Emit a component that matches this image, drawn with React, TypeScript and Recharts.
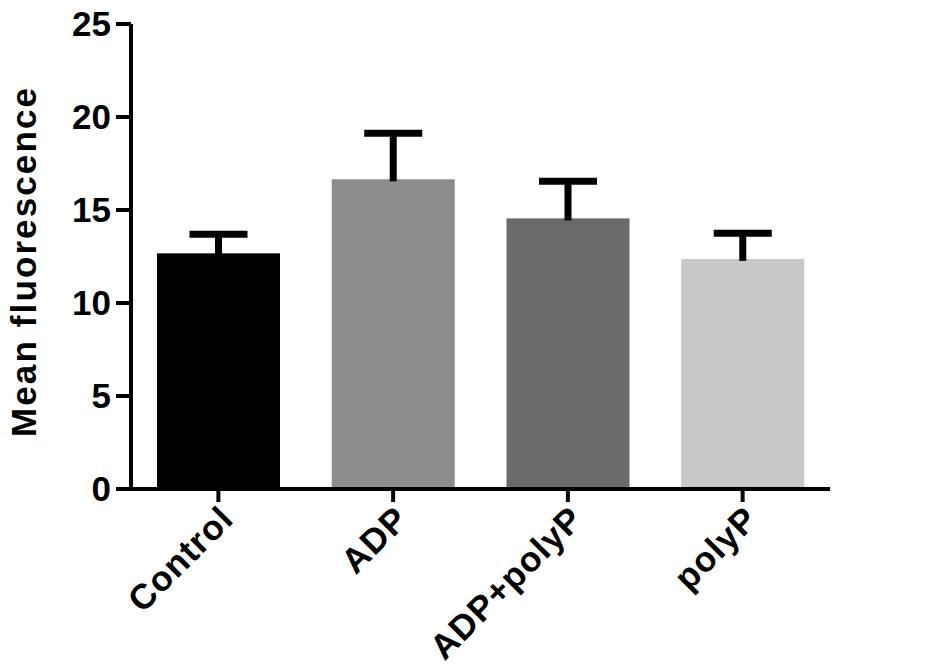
import { BarChart, Bar, XAxis, YAxis, Cell } from "recharts";

const categories = ["Control", "ADP", "ADP+polyP", "polyP"];
const means = [12.67, 16.65, 14.55, 12.37];
const errors = [1.03, 2.47, 1.99, 1.38];
const colors = ["#000000", "#8c8c8c", "#6a6a6a", "#c8c8c8"];
const yTicks = [0, 5, 10, 15, 20, 25];

const data = categories.map((name, i) => ({ name, mean: means[i], err: errors[i] }));

const FONT = "'Liberation Sans', Arial, sans-serif";

// bar plus a one-sided (upward) error bar with a cap
const BarWithCap = (props: any) => {
  const { x, y, width, height, fill, payload } = props;
  const perUnit = height / payload.mean;
  const capY = y - payload.err * perUnit;
  const cx = x + width / 2;
  return (
    <g>
      <rect x={x} y={y} width={width} height={height} fill={fill} />
      <line x1={cx} x2={cx} y1={y + 2} y2={capY} stroke="#000" strokeWidth={7} />
      <line x1={cx - 29} x2={cx + 29} y1={capY} y2={capY} stroke="#000" strokeWidth={7} />
    </g>
  );
};

const XTick = ({ x, y, payload }: any) => {
  const ax = x + 17;
  const ay = y + 17;
  return (
    <text
      x={ax}
      y={ay}
      transform={`rotate(-45 ${ax} ${ay})`}
      textAnchor="end"
      fontFamily={FONT}
      fontWeight="bold"
      fontSize={35}
      letterSpacing={1}
      fill="#000"
    >
      {payload.value}
    </text>
  );
};

export default function App() {
  return (
    <div style={{ position: "absolute", left: 0, top: 0, background: "#fff" }}>
      <BarChart
        width={945}
        height={666}
        data={data}
        margin={{ top: 24, right: 115, left: 0, bottom: 0 }}
      >
        <XAxis
          dataKey="name"
          height={177}
          axisLine={{ stroke: "#000", strokeWidth: 4 }}
          tickLine={{ stroke: "#000", strokeWidth: 4 }}
          tickSize={13}
          tick={<XTick />}
          interval={0}
        />
        <YAxis
          width={131}
          domain={[0, 25]}
          ticks={yTicks}
          axisLine={{ stroke: "#000", strokeWidth: 4 }}
          tickLine={{ stroke: "#000", strokeWidth: 4 }}
          tickSize={15}
          tickMargin={5}
          tick={{ fill: "#000", fontSize: 35, fontWeight: "bold", fontFamily: FONT }}
          label={{
            content: ({ viewBox }: any) => {
              const cy = viewBox.y + viewBox.height / 2 + 6;
              return (
                <text
                  x={36}
                  y={cy}
                  transform={`rotate(-90 36 ${cy})`}
                  textAnchor="middle"
                  fontFamily={FONT}
                  fontWeight="bold"
                  fontSize={35}
                  textLength={349}
                  lengthAdjust="spacing"
                  fill="#000"
                >
                  Mean fluorescence
                </text>
              );
            },
          }}
        />
        <Bar dataKey="mean" barSize={123} shape={<BarWithCap />} isAnimationActive={false}>
          {data.map((d, i) => (
            <Cell key={d.name} fill={colors[i]} />
          ))}
        </Bar>
      </BarChart>
    </div>
  );
}
